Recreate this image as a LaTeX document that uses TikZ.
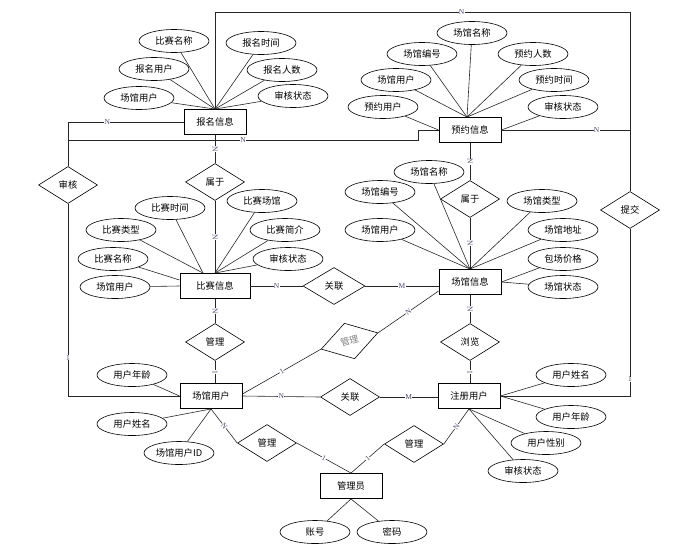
\documentclass[tikz,border=0pt]{standalone}
\usepackage{fontspec}
\setmainfont{Noto Sans CJK SC}
\newfontfamily\cardfont{Liberation Serif}
\usetikzlibrary{shapes.geometric,calc}
\definecolor{cardc}{RGB}{70,70,110}
\begin{document}
\begin{tikzpicture}[x=1pt,y=-1pt,
 every node/.style={font=\fontsize{9.3}{10}\selectfont},
 ent/.style={draw, line width=0.9pt, rectangle, minimum width=62pt, minimum height=25pt, inner sep=0pt},
 attr/.style={draw, line width=0.6pt, ellipse, minimum width=70pt, minimum height=23pt, inner sep=0pt},
 rel/.style={draw, line width=0.6pt, diamond, minimum width=59pt, minimum height=37pt, inner sep=0pt},
 con/.style={line width=0.6pt, draw=black!85},
 card/.style={font=\cardfont\fontsize{7.5}{7.5}\selectfont, text=cardc, fill=white, inner sep=0.3pt},
]
\useasboundingbox (0,0) rectangle (700,557);

% entities
\node[ent] (bmxx) at (215,122) {报名信息};
\node[ent] (yyxx) at (470,130) {预约信息};
\node[ent, minimum width=70pt] (bsxx) at (215,286) {比赛信息};
\node[ent] (cgxx) at (470,282) {场馆信息};
\node[ent] (cgyh) at (211,396) {场馆用户};
\node[ent] (zcyh) at (469,396) {注册用户};
\node[ent] (gly) at (351,486) {管理员};

% relations
\node[rel] (sh) at (68,185) {审核};
\node[rel] (tj) at (630,210) {提交};
\node[rel] (sy1) at (215,182) {属于};
\node[rel] (sy2) at (470,199) {属于};
\node[rel] (gl1) at (215,342) {管理};
\node[rel] (ll) at (470,342) {浏览};
\node[rel, rotate=16, text=gray] (gl2) at (349.5,341) {管理};
\node[rel, minimum width=62pt] (gx1) at (334,286) {关联};
\node[rel] (gx2) at (350,397) {关联};
\node[rel] (gl3) at (267,443) {管理};
\node[rel] (gl4) at (414,444) {管理};

% attributes of 报名信息
\node[attr] (a1) at (174,41) {比赛名称};
\node[attr] (a2) at (261,43) {报名时间};
\node[attr] (a3) at (154,69) {报名用户};
\node[attr] (a4) at (282,70) {报名人数};
\node[attr] (a5) at (139,98) {场馆用户};
\node[attr] (a6) at (293,96) {审核状态};
\foreach \n in {a1,a2,a3,a4,a5,a6} \draw[con] (\n) -- (bmxx.north);

% attributes of 预约信息
\node[attr] (b1) at (472,33) {场馆名称};
\node[attr] (b2) at (422,54) {场馆编号};
\node[attr] (b3) at (533,54) {预约人数};
\node[attr] (b4) at (396,80) {场馆用户};
\node[attr] (b5) at (554,80) {预约时间};
\node[attr] (b6) at (383,107) {预约用户};
\node[attr] (b7) at (563,107) {审核状态};
\foreach \n in {b1,b2,b3,b4,b5} \draw[con] (\n) -- ([xshift=-3pt]yyxx.north);
\draw[con] (b6) -- (yyxx.west);
\draw[con] (b7) -- (yyxx.east);

% attributes of 比赛信息
\node[attr] (c1) at (170,208) {比赛时间};
\node[attr] (c2) at (262,201) {比赛场馆};
\node[attr] (c3) at (121,230) {比赛类型};
\node[attr] (c4) at (285,230) {比赛简介};
\node[attr] (c5) at (113,259) {比赛名称};
\node[attr] (c6) at (288,259) {审核状态};
\node[attr] (c7) at (115,287) {场馆用户};
\foreach \n in {c1,c3} \draw[con] (\n) -- ([xshift=-12pt]bsxx.north);
\foreach \n in {c2,c4,c6} \draw[con] (\n) -- (bsxx.north);
\draw[con] (c5) -- ([yshift=6pt]bsxx.west);
\draw[con] (c7) -- (bsxx.west);

% attributes of 场馆信息
\node[attr] (d1) at (429,172) {场馆名称};
\node[attr] (d2) at (380,192) {场馆编号};
\node[attr] (d3) at (542,201) {场馆类型};
\node[attr] (d4) at (380,230) {场馆用户};
\node[attr] (d5) at (563,230) {场馆地址};
\node[attr] (d6) at (563,259) {包场价格};
\node[attr] (d7) at (563,287) {场馆状态};
\foreach \n in {d1,d2,d3,d4,d5} \draw[con] (\n) -- (cgxx.north);
\draw[con] (d6) -- (cgxx.east);
\draw[con] (d7) -- (cgxx.east);

% attributes of 场馆用户
\node[attr] (e1) at (132,375) {用户年龄};
\node[attr] (e2) at (132,424) {用户姓名};
\node[attr] (e3) at (179,453) {场馆用户ID};
\draw[con] (e1) -- (cgyh.west);
\draw[con] (e2) -- (cgyh.south);
\draw[con] (e3) -- (cgyh.south);

% attributes of 注册用户
\node[attr] (f1) at (571,375) {用户姓名};
\node[attr] (f2) at (571,417) {用户年龄};
\node[attr] (f3) at (546,443) {用户性别};
\node[attr] (f4) at (523,471) {审核状态};
\draw[con] (f1) -- (zcyh.east);
\draw[con] (f2) -- (zcyh.east);
\draw[con] (f3) -- (zcyh.south);
\draw[con] (f4) -- (zcyh.south);

% attributes of 管理员
\node[attr] (g1) at (315,532) {账号};
\node[attr] (g2) at (392,532) {密码};
\draw[con] (g1) -- (gly.south);
\draw[con] (g2) -- (gly.south);

% 提交
\coordinate (topR) at (630,12);
\draw[con] (bmxx.north) -- (bmxx.north |- topR) -- node[card,pos=0.594]{N} (topR) -- (tj.north);
\draw[con] (yyxx.east) -- node[card,pos=0.74]{N} (yyxx.east -| topR);
\draw[con] (tj.south) -- node[card,pos=0.9]{1} (tj.south |- zcyh.east) -- (zcyh.east);

% 审核
\draw[con] (bmxx.west) -- node[card,pos=0.66]{N} (bmxx.west -| sh.north) -- (sh.north);
\draw[con] (sh.south) -- node[card,pos=0.8]{1} (sh.south |- cgyh.west) -- (cgyh.west);
\coordinate (j1) at (68,140);
\coordinate (j2) at (418,140);
\draw[con] (j1) -- node[card]{N} (j2) |- (yyxx.west);

% 属于
\draw[con] (bmxx.south) -- node[card,sloped]{N} (sy1.north);
\draw[con] (sy1.south) -- node[card,sloped]{N} (sy1.south |- bsxx.north);
\draw[con] (yyxx.south) -- node[card,sloped]{N} (sy2.north);
\draw[con] (sy2.south) -- node[card,sloped]{N} (cgxx.north);

% 管理 (比赛信息 - 场馆用户)
\draw[con] (bsxx.south) -- node[card,sloped]{N} (gl1.north);
\draw[con] (gl1.south) -- node[card,sloped]{1} (gl1.south |- cgyh.north);

% 浏览
\draw[con] (cgxx.south) -- node[card,sloped]{N} (ll.north);
\draw[con] (ll.south) -- node[card,sloped]{1} (ll.south |- zcyh.north);

% 关联
\draw[con] (bsxx.east) -- node[card]{N} (gx1.west);
\draw[con] (gx1.east) -- node[card]{M} (gx1.east -| cgxx.west);
\draw[con] (cgyh.east) -- node[card]{N} (gx2.west);
\draw[con] (gx2.east) -- node[card]{M} (gx2.east -| zcyh.west);

% 管理 (rotated)
\draw[con] ([yshift=2pt]cgyh.east) -- node[card,sloped]{1} (gl2.west);
\draw[con] (gl2.east) -- node[card,sloped]{N} ([yshift=-9pt]cgxx.west);

% 管理 (管理员)
\draw[con] (cgyh.south) -- node[card,sloped]{N} (gl3.west);
\draw[con] (gl3.east) -- node[card,sloped]{1} (gly.north);
\draw[con] (gly.north) -- node[card,sloped]{1} (gl4.west);
\draw[con] (gl4.east) -- node[card,sloped]{N} (zcyh.south);
\end{tikzpicture}
\end{document}
